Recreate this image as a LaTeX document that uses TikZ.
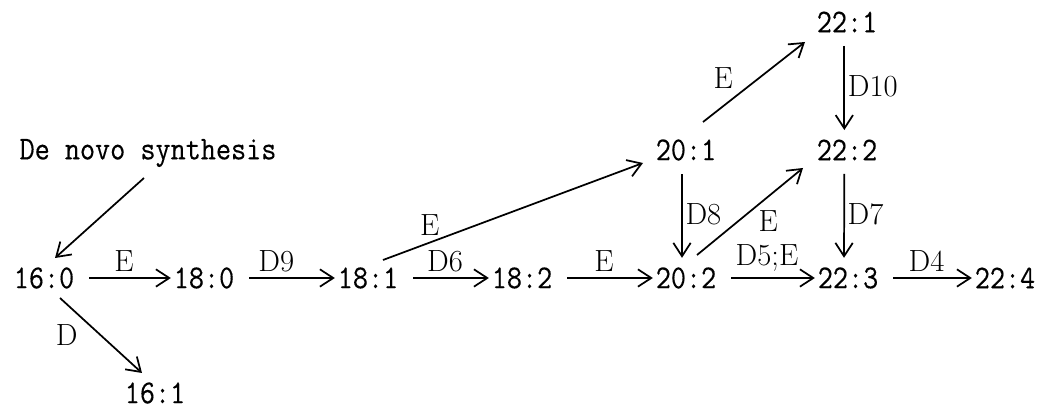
\documentclass[tikz,border=0pt]{standalone}
\usepackage{fontspec}
\setmonofont{Latin Modern Mono}[FakeStretch=0.88,FakeBold=0.3]
\usepackage{tikz}
\usetikzlibrary{arrows.meta,positioning,calc}

\begin{document}
\begin{tikzpicture}[x=0.75pt,y=0.75pt,
    fa/.style={font=\ttfamily\fontsize{25}{27}\selectfont,inner sep=2pt},
    lbl/.style={font=\fontsize{23}{25}\selectfont,inner sep=1pt},
    arr/.style={line width=1.3pt,-{Straight Barb[length=10pt,width=13pt]}},
    flow/.style={arr,shorten <=9pt},
    drop/.style={arr,shorten <=8pt,shorten >=5pt}]
  \useasboundingbox (0,0) rectangle (1049,410);
  \node[fa] (novo) at (148,257) {De novo synthesis};
  \node[fa] (f160) at (44,132) {16:0};
  \node[fa] (f161) at (155,17) {16:1};
  \node[fa] (f180) at (204,132) {18:0};
  \node[fa] (f181) at (368,132) {18:1};
  \node[fa] (f182) at (522,132) {18:2};
  \node[fa] (f201) at (686,260) {20:1};
  \node[fa] (f202) at (686,132) {20:2};
  \node[fa] (f221) at (847,388) {22:1};
  \node[fa] (f222) at (847,260) {22:2};
  \node[fa] (f223) at (848,132) {22:3};
  \node[fa] (f224) at (1005,132) {22:4};

  \draw[arr] ($(novo)+(-4,-25)$) -- ($(f160)+(11,20)$);
  \draw[flow] (f160.east) -- node[lbl,above=3pt]{E} (f180.west);
  \draw[arr] ($(f160)+(16,-20)$) -- node[lbl,left=16pt]{D} ($(f161)+(-13,20)$);
  \draw[flow] (f180.east) -- node[lbl,pos=0.4,above=3pt]{D9} (f181.west);
  \draw[flow] (f181.east) -- node[lbl,above=3pt]{D6} (f182.west);
  \draw[arr] ($(f181)+(15,18)$) -- node[lbl,pos=0.18,above=4pt]{E} ($(f201)+(-43,-13)$);
  \draw[flow] (f182.east) -- node[lbl,above=3pt]{E} (f202.west);
  \draw[flow] (f202.east) -- node[lbl,above=3pt]{D5;E} (f223.west);
  \draw[flow] (f223.east) -- node[lbl,above=3pt]{D4} (f224.west);
  \draw[drop] ([xshift=-3pt]f201.south) -- node[lbl,right=1pt]{D8} ([xshift=-3pt]f202.north);
  \draw[arr] ($(f201)+(17,28)$) -- node[lbl,pos=0.55,left=18pt]{E} ($(f221)+(-42,-20)$);
  \draw[arr] ($(f202)+(11,23)$) -- node[lbl,pos=0.385,right=14pt]{E} ($(f222)+(-44,-18)$);
  \draw[drop] ([xshift=-2pt]f221.south) -- node[lbl,right=1pt]{D10} ([xshift=-2pt]f222.north);
  \draw[drop] ([xshift=-2pt]f222.south) -- node[lbl,right=1pt]{D7} ([xshift=-3pt]f223.north);
\end{tikzpicture}
\end{document}
